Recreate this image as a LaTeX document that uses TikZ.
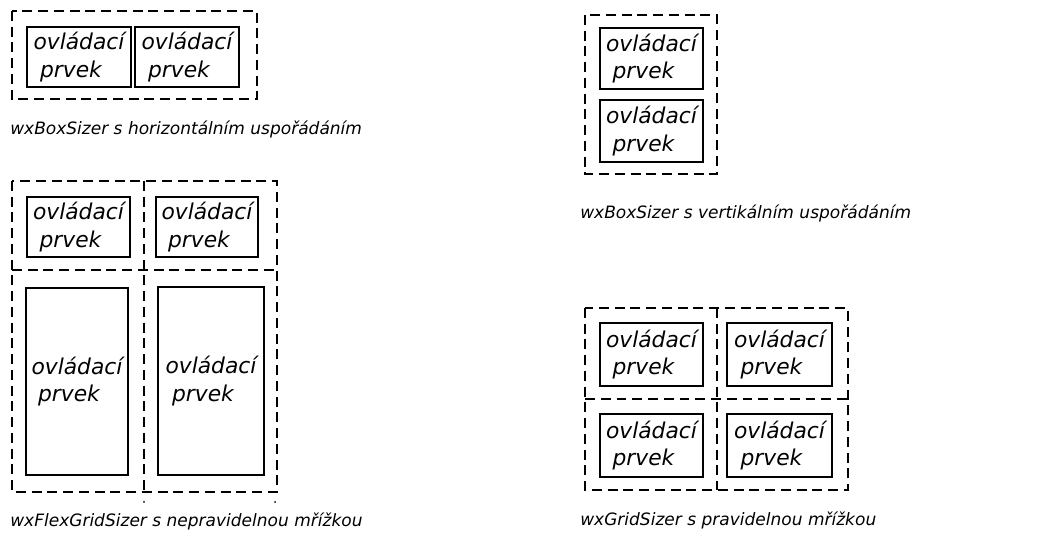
\documentclass[tikz,border=0pt]{standalone}
\usepackage{fontspec}
\setmainfont{DejaVu Sans}

\begin{document}
\begin{tikzpicture}[x=0.025cm,y=-0.025cm,
    prvek/.style 2 args={draw, line width=1.1pt, inner sep=0pt, align=left,
        minimum width=#1*0.025cm, minimum height=#2*0.025cm,
        font=\fontsize{15.5}{19.5}\selectfont\itshape},
    okraj/.style={line width=1.15pt, dash pattern=on 7pt off 4.2pt},
    popis/.style={anchor=base west, inner sep=0pt,
        font=\fontsize{12.1}{14}\selectfont\itshape}]
    \def\ovl{ovládací\\\hspace*{.3em}prvek}

    \useasboundingbox (0,0) rectangle (1047,536);

    % horizontalni usporadani
    \draw[okraj] (12,11) rectangle (257,99);
    \node[prvek={104}{60}] (h1) at (79,57) {\ovl};
    \node[prvek={104}{60}] (h2) at (187,57) {\ovl};
    \node[popis] (hpopis) at (10,135) {wxBoxSizer s horizontálním uspořádáním};

    % vertikalni usporadani
    \draw[okraj] (585,15) rectangle (717,174);
    \node[prvek={103}{61}] (v1) at (651.5,58.5) {\ovl};
    \node[prvek={103}{62}] (v2) at (651.5,131) {\ovl};
    \node[popis] (vpopis) at (580,219) {wxBoxSizer s vertikálním uspořádáním};

    % nepravidelna mrizka
    \draw[okraj] (12,181) rectangle (277,492);
    \draw[okraj] (144,181) -- (144,492);
    \draw[okraj] (12,270) -- (277,270);
    \node[prvek={103}{60}] (f1) at (78.5,227) {\ovl};
    \node[prvek={102}{60}] (f2) at (207,227) {\ovl};
    \node[prvek={102}{187}] (f3) at (77,381.5) {\ovl};
    \node[prvek={106}{188}] (f4) at (211,381) {\ovl};
    \fill (144,502) circle (1) (275,502) circle (1);
    \node[popis] (fpopis) at (10,527) {wxFlexGridSizer s nepravidelnou mřížkou};

    % pravidelna mrizka
    \draw[okraj] (585,308) rectangle (848,490);
    \draw[okraj] (717,308) -- (717,490);
    \draw[okraj] (585,399) -- (848,399);
    \node[prvek={103}{63}] (g1) at (651.5,354.5) {\ovl};
    \node[prvek={105}{63}] (g2) at (779.5,354.5) {\ovl};
    \node[prvek={103}{63}] (g3) at (651.5,445.5) {\ovl};
    \node[prvek={105}{63}] (g4) at (779.5,445.5) {\ovl};
    \node[popis] (gpopis) at (580,526) {wxGridSizer s pravidelnou mřížkou};
\end{tikzpicture}
\end{document}
